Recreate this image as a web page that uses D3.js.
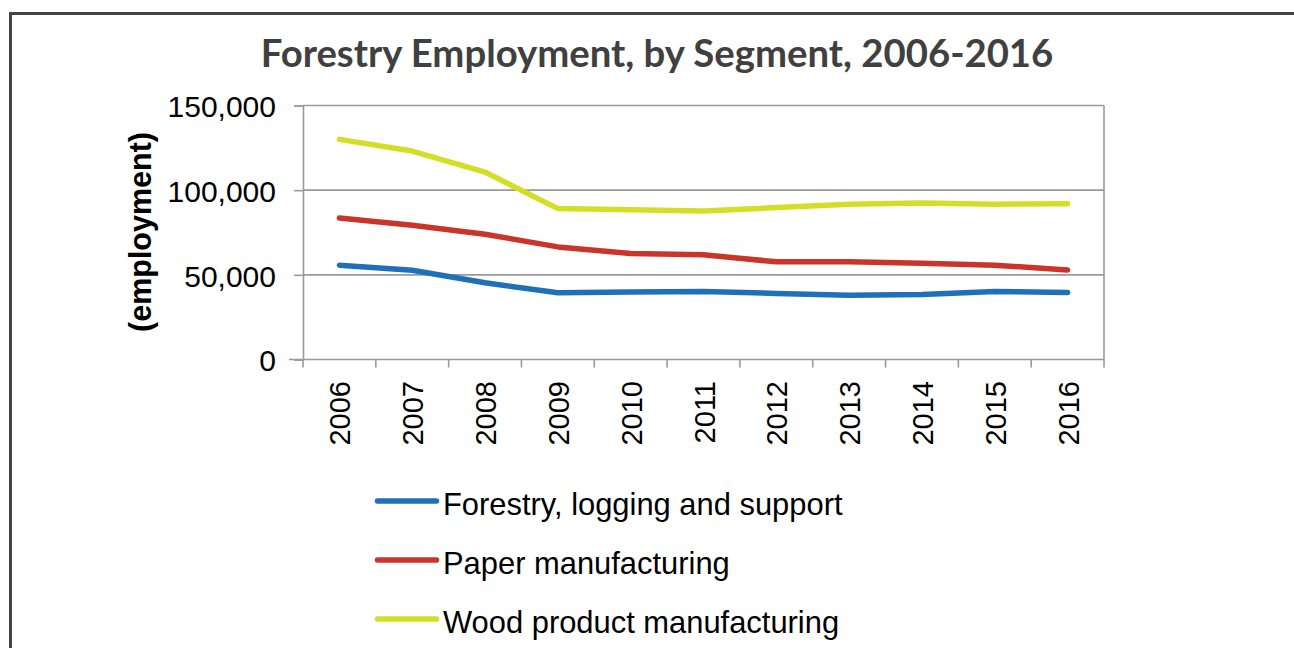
<!DOCTYPE html>
<html>
<head>
<meta charset="utf-8">
<script src="https://cdn.jsdelivr.net/npm/d3@7"></script>
<style>
  html, body { margin: 0; padding: 0; background: #fff; }
  svg { display: block; }
</style>
</head>
<body>
<svg id="chart" width="1294" height="648"></svg>
<script>
// Employment by forestry segment, 2006-2016
const years = ["2006","2007","2008","2009","2010","2011","2012","2013","2014","2015","2016"];
const forestryLogging = [55700, 52700, 45300, 39400, 39800, 40200, 39000, 38000, 38400, 40200, 39600];
const paperMfg        = [83600, 79300, 74000, 66500, 62600, 61800, 57700, 57700, 56900, 55700, 52900];
const woodProductMfg  = [130000, 123100, 110700, 89100, 88500, 87700, 89700, 91700, 92400, 91700, 92000];
const seriesNames  = ["Forestry, logging and support", "Paper manufacturing", "Wood product manufacturing"];
const seriesColors = ["#1f70b9", "#c9352a", "#d3df27"];
const yTicks = [0, 50000, 100000, 150000];
const titleText = "Forestry Employment, by Segment, 2006-2016";
const yTitle = "(employment)";

const series = [forestryLogging, paperMfg, woodProductMfg].map((vals, i) => ({
  name: seriesNames[i],
  color: seriesColors[i],
  values: vals.map((v, j) => ({ year: years[j], value: v }))
}));

const svg = d3.select("#chart");
const plot = { left: 303, right: 1104, top: 105.5, bottom: 359.5 };
const gridColor = "#9a9a9a";
const sans = "'Liberation Sans', Arial, sans-serif";

// outer frame (open to the right and bottom)
svg.append("path")
  .attr("d", "M10.5,648 L10.5,13.5 L1294,13.5")
  .attr("fill", "none")
  .attr("stroke", "#444")
  .attr("stroke-width", 3);

// title
svg.append("text")
  .attr("x", 657)
  .attr("y", 67)
  .attr("text-anchor", "middle")
  .attr("font-family", "Lato, 'Open Sans', sans-serif")
  .attr("font-weight", "bold")
  .attr("font-size", 38.3)
  .attr("fill", "#404040")
  .text(titleText);

const x = d3.scaleBand().domain(years).range([plot.left, plot.right]).paddingInner(0).paddingOuter(0);
const y = d3.scaleLinear().domain([0, 150000]).range([plot.bottom, plot.top]);

// horizontal gridlines
svg.append("g")
  .selectAll("line")
  .data(yTicks.filter(d => d > 0))
  .join("line")
  .attr("x1", plot.left).attr("x2", plot.right)
  .attr("y1", d => y(d)).attr("y2", d => y(d))
  .attr("stroke", gridColor).attr("stroke-width", 1.6);

// right edge of plot area
svg.append("line")
  .attr("x1", plot.right).attr("x2", plot.right)
  .attr("y1", plot.top).attr("y2", plot.bottom)
  .attr("stroke", gridColor).attr("stroke-width", 1.6);

// y axis
const yAxis = svg.append("g")
  .attr("transform", `translate(${plot.left},0)`)
  .call(d3.axisLeft(y).tickValues(yTicks).tickSize(9).tickPadding(18)
    .tickFormat(d3.format(",")));
yAxis.select(".domain").attr("stroke", gridColor).attr("stroke-width", 1.6);
yAxis.selectAll(".tick line").attr("stroke", gridColor).attr("stroke-width", 1.6);
yAxis.selectAll(".tick text")
  .attr("font-family", sans).attr("font-size", 30).attr("fill", "#000")
  .attr("dy", "0.38em");

// x axis: ticks sit on the category boundaries
const boundaries = years.map(d => x(d)).concat([plot.right]);
const xAxisG = svg.append("g");
xAxisG.append("line")
  .attr("x1", plot.left - 14).attr("x2", plot.right)
  .attr("y1", plot.bottom).attr("y2", plot.bottom)
  .attr("stroke", gridColor).attr("stroke-width", 1.6);
xAxisG.selectAll("line.tk")
  .data(boundaries)
  .join("line")
  .attr("class", "tk")
  .attr("x1", d => d).attr("x2", d => d)
  .attr("y1", plot.bottom).attr("y2", plot.bottom + 8)
  .attr("stroke", gridColor).attr("stroke-width", 1.6);
xAxisG.selectAll("text")
  .data(years)
  .join("text")
  .attr("transform", d => `translate(${x(d) + x.bandwidth() / 2 + 11},381) rotate(-90)`)
  .attr("text-anchor", "end")
  .attr("font-family", sans).attr("font-size", 29).attr("fill", "#000")
  .text(d => d);

// y axis title
svg.append("text")
  .attr("transform", "translate(151,232) rotate(-90)")
  .attr("text-anchor", "middle")
  .attr("font-family", sans).attr("font-weight", "bold").attr("font-size", 30.5)
  .attr("fill", "#000")
  .text(yTitle);

// series lines
const line = d3.line()
  .x(d => x(d.year) + x.bandwidth() / 2)
  .y(d => y(d.value));

svg.append("g")
  .selectAll("path")
  .data(series)
  .join("path")
  .attr("d", d => line(d.values))
  .attr("fill", "none")
  .attr("stroke", d => d.color)
  .attr("stroke-width", 5.5)
  .attr("stroke-linejoin", "round")
  .attr("stroke-linecap", "round");

// legend
const legendRows = [501, 560, 619];
const legend = svg.append("g")
  .selectAll("g")
  .data(series)
  .join("g")
  .attr("transform", (d, i) => `translate(0,${legendRows[i]})`);
legend.append("line")
  .attr("x1", 377.5).attr("x2", 436.5)
  .attr("y1", 0).attr("y2", 0)
  .attr("stroke", d => d.color)
  .attr("stroke-width", 5.5)
  .attr("stroke-linecap", "round");
legend.append("text")
  .attr("x", 443)
  .attr("y", 14)
  .attr("font-family", sans).attr("font-size", 30.9).attr("fill", "#000")
  .text(d => d.name);
</script>
</body>
</html>
